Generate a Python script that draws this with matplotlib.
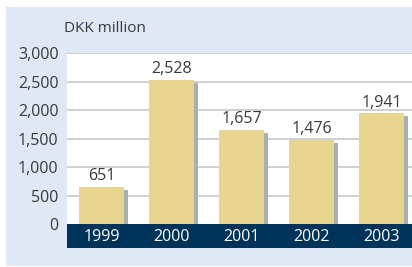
import matplotlib
matplotlib.use("Agg")
import matplotlib.pyplot as plt

years = ["1999", "2000", "2001", "2002", "2003"]
values = [651, 2528, 1657, 1476, 1941]
value_labels = ["651", "2,528", "1,657", "1,476", "1,941"]
yticks = [0, 500, 1000, 1500, 2000, 2500, 3000]
ytick_labels = ["0", "500", "1,000", "1,500", "2,000", "2,500", "3,000"]
unit_label = "DKK million"

W, H = 412, 267
plt.rcParams['font.family'] = ['Open Sans', 'DejaVu Sans']
txt_color = "#3a3a3a"
fs = 11.5

fig = plt.figure(figsize=(W / 100, H / 100), dpi=100)
fig.patch.set_facecolor("white")
panel_color = "#dfe8f4"

def fx(px):
    return px / W

def fy(py):
    return 1 - py / H

bg = fig.add_axes([fx(6), fy(266), 1 - fx(6), (266 - 7) / H], zorder=-5)
bg.set_facecolor(panel_color)
bg.set_xticks([]); bg.set_yticks([])
for s in bg.spines.values():
    s.set_visible(False)

ax_l, ax_r, ax_t, ax_b = 67, 412, 53, 224
ax = fig.add_axes([fx(ax_l), fy(ax_b), fx(ax_r - ax_l), (ax_b - ax_t) / H], zorder=1)
ax.set_facecolor("white")
ax.set_ylim(0, 3000)
ax.set_xlim(-0.493, 4.436)
for s in ax.spines.values():
    s.set_visible(False)
ax.set_yticks(yticks)
ax.set_yticklabels(ytick_labels, fontsize=fs, color=txt_color)
ax.tick_params(axis="y", length=0, pad=6)
ax.set_xticks([])
for t in yticks[1:]:
    ax.axhline(t, color="#c8c8c8", lw=1.2, zorder=1)

x = list(range(len(years)))
bw = 45 / 70
shadow_dx = 4 / 70
shadow_dy = 3 / 0.057
ax.bar([xi + shadow_dx for xi in x], [v - shadow_dy for v in values], width=bw,
       color="#a8b0b2", zorder=2)
ax.bar(x, values, width=bw, color="#e8d690", zorder=3)
for xi, v, lab in zip(x, values, value_labels):
    ax.text(xi, v + 50, lab, ha="center", va="bottom", fontsize=fs, color=txt_color, zorder=4)

band = fig.add_axes([fx(ax_l), fy(247.5), fx(ax_r - ax_l), (247.5 - ax_b) / H], zorder=2)
band.set_facecolor("#00335a")
band.set_xlim(ax.get_xlim())
band.set_ylim(0, 1)
band.set_xticks([]); band.set_yticks([])
for s in band.spines.values():
    s.set_visible(False)
for xi, yr in zip(x, years):
    band.text(xi, 0.45, yr, ha="center", va="center", fontsize=fs, color="white")

fig.text(fx(64), fy(29), unit_label, ha="left", va="center", fontsize=11, color=txt_color)

fig.savefig("out.png", dpi=100, facecolor=fig.get_facecolor())
